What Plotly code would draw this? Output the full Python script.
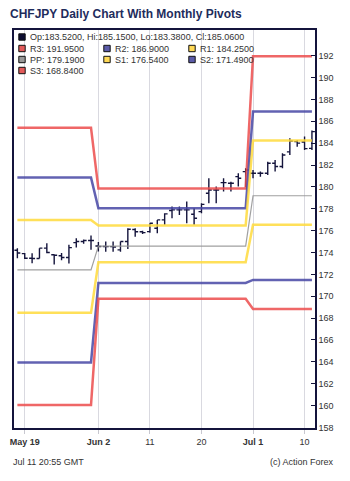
import plotly.graph_objects as go

# ---------------- data ----------------
dates = [
    "2025-05-16",
    "2025-05-19", "2025-05-20", "2025-05-21", "2025-05-22", "2025-05-23",
    "2025-05-26", "2025-05-27", "2025-05-28", "2025-05-29", "2025-05-30",
    "2025-06-02", "2025-06-03", "2025-06-04", "2025-06-05", "2025-06-06",
    "2025-06-09", "2025-06-10", "2025-06-11", "2025-06-12", "2025-06-13",
    "2025-06-16", "2025-06-17", "2025-06-18", "2025-06-19", "2025-06-20",
    "2025-06-23", "2025-06-24", "2025-06-25", "2025-06-26", "2025-06-27",
    "2025-06-30", "2025-07-01", "2025-07-02", "2025-07-03", "2025-07-04",
    "2025-07-07", "2025-07-08", "2025-07-09", "2025-07-10", "2025-07-11",
]
opens = [
    174.20,
    173.90, 173.48, 173.45, 174.40, 173.80,
    173.70, 173.55, 174.90, 175.00, 175.10,
    174.60, 174.55, 174.54, 174.24, 175.00,
    176.10, 175.90, 175.91, 176.22, 176.98,
    177.84, 177.90, 177.90, 177.50, 177.74,
    179.42, 179.72, 180.39, 180.34, 180.94,
    181.40, 181.25, 181.25, 181.25, 182.16,
    181.86, 183.20, 184.14, 184.10, 183.52,
]
highs = [
    174.40,
    173.95, 173.94, 174.40, 174.85, 173.85,
    173.95, 174.70, 175.30, 175.20, 175.55,
    174.95, 175.00, 175.00, 175.00, 176.22,
    176.22, 176.00, 176.68, 176.98, 177.59,
    178.20, 178.20, 178.66, 178.05, 178.51,
    180.79, 180.03, 180.79, 180.48, 181.25,
    181.71, 181.55, 181.40, 182.31, 182.47,
    183.08, 184.45, 184.29, 184.60, 185.15,
]
lows = [
    173.48,
    173.40, 173.02, 173.45, 173.94, 172.90,
    173.30, 173.00, 174.45, 174.80, 174.25,
    174.10, 174.08, 174.08, 174.08, 174.33,
    175.45, 175.70, 175.80, 175.77, 176.53,
    177.14, 177.44, 176.68, 176.53, 177.59,
    178.51, 178.51, 179.57, 179.57, 180.03,
    180.00, 180.79, 180.94, 181.10, 181.40,
    181.70, 182.92, 183.68, 183.38, 183.38,
]
closes = [
    173.95,
    173.48, 173.45, 174.40, 174.00, 173.75,
    173.55, 174.45, 175.00, 175.10, 175.10,
    174.55, 174.54, 174.50, 175.00, 176.13,
    175.90, 175.82, 176.68, 176.98, 177.53,
    177.90, 177.90, 177.90, 177.14, 178.40,
    179.72, 179.72, 180.39, 180.34, 180.79,
    181.55, 181.25, 181.25, 182.16, 181.86,
    182.92, 184.20, 184.00, 183.50, 185.06,
]

pivot_names = ["R3", "R2", "R1", "PP", "S1", "S2", "S3"]
pivot_months = ["2025-05", "2025-06", "2025-07"]
may_levels = [185.40, 180.85, 176.98, 172.41, 168.48, 163.95, 160.05]
jun_levels = [179.85, 178.05, 176.46, 174.58, 173.11, 171.22, 169.76]
jul_levels = [191.95, 186.90, 184.25, 179.19, 176.54, 171.49, 168.84]

tick_dates = ["2025-05-19", "2025-06-02", "2025-06-11", "2025-06-20", "2025-07-01", "2025-07-10"]
tick_labels = ["<b>May 19</b>", "<b>Jun 2</b>", "11", "20", "<b>Jul 1</b>", "10"]

y_ticks = list(range(158, 194, 2))

title_text = "CHFJPY Daily Chart With Monthly Pivots"
footer_left = "Jul 11 20:55 GMT"
footer_right = "(c) Action Forex"

# ---------------- styles ----------------
FONT = "Liberation Sans, Arial, sans-serif"
NAVY = "#14143c"
TEXT = "#333333"
pivot_styles = {
    "R3": dict(color="rgba(236,76,76,0.85)", width=2.5, sq="#e35a5a"),
    "R2": dict(color="rgba(70,70,165,0.85)", width=2.5, sq="#5b5ba8"),
    "R1": dict(color="rgba(255,218,60,0.85)", width=2.5, sq="#ffd955"),
    "PP": dict(color="rgba(150,150,150,0.9)", width=1.2, sq="#999999"),
    "S1": dict(color="rgba(255,218,60,0.85)", width=2.5, sq="#ffd955"),
    "S2": dict(color="rgba(70,70,165,0.85)", width=2.5, sq="#5b5ba8"),
    "S3": dict(color="rgba(236,76,76,0.85)", width=2.5, sq="#e35a5a"),
}

month_table = dict(zip(pivot_months, [may_levels, jun_levels, jul_levels]))

fig = go.Figure()

# pivot lines
for i, name in enumerate(pivot_names):
    ys = [month_table[d[:7]][i] for d in dates]
    st = pivot_styles[name]
    fig.add_trace(go.Scatter(
        x=dates, y=ys, mode="lines", name=name,
        line=dict(color=st["color"], width=st["width"]),
        hoverinfo="skip", showlegend=False,
    ))

# OHLC bars
fig.add_trace(go.Ohlc(
    x=dates, open=opens, high=highs, low=lows, close=closes,
    increasing=dict(line=dict(color=NAVY, width=1.4)),
    decreasing=dict(line=dict(color=NAVY, width=1.4)),
    tickwidth=0.4, showlegend=False, name="CHFJPY",
))

# ---------------- legend (text + squares) ----------------
annotations = []
shapes = []
row_y = [7, 18.5, 29.5, 40.5]  # px below top of plot area
col_x = [8, 93, 178]           # px from left of plot area (square centre)
sq = 3.2

def add_item(cx, cy, color, label):
    shapes.append(dict(
        type="rect", xref="paper", yref="paper",
        xsizemode="pixel", ysizemode="pixel", xanchor=0, yanchor=1,
        x0=cx - sq, x1=cx + sq, y0=-cy - sq, y1=-cy + sq,
        fillcolor=color, line=dict(color="#111111", width=1),
    ))
    annotations.append(dict(
        text=label, xref="paper", yref="paper", x=0, y=1,
        xanchor="left", yanchor="middle", showarrow=False,
        xshift=cx + 6, yshift=-cy,
        font=dict(family=FONT, size=9, color=TEXT),
    ))

ohlc_label = "Op:%.4f, Hi:%.4f, Lo:%.4f, Cl:%.4f" % (opens[-1], highs[-1], lows[-1], closes[-1])
add_item(col_x[0], row_y[0], "#0d0d30", ohlc_label)
for i, name in enumerate(pivot_names):
    r = 1 + i // 3
    c = i % 3
    add_item(col_x[c], row_y[r], pivot_styles[name]["sq"], "%s: %.4f" % (name, jul_levels[i]))

annotations.append(dict(
    text=footer_left, xref="paper", yref="paper", x=0, y=0,
    xanchor="left", yanchor="middle", showarrow=False, xshift=-3, yshift=-34,
    font=dict(family=FONT, size=9, color=TEXT),
))
annotations.append(dict(
    text=footer_right, xref="paper", yref="paper", x=1, y=0,
    xanchor="right", yanchor="middle", showarrow=False, xshift=21, yshift=-34,
    font=dict(family=FONT, size=9, color=TEXT),
))

fig.update_layout(
    width=350, height=481,
    margin=dict(l=10, r=35, t=30, b=53),
    paper_bgcolor="white", plot_bgcolor="white",
    showlegend=False,
    title=dict(
        text="<b>%s</b>" % title_text, x=10 / 350, xanchor="left",
        xref="container", yref="container", y=1 - 13.5 / 481, yanchor="middle",
        font=dict(family=FONT, size=12, color="#1e2c5c"),
    ),
    annotations=annotations,
    shapes=shapes,
    xaxis=dict(
        type="date",
        range=["2025-05-15 13:00", "2025-07-11 10:00"],
        rangebreaks=[dict(bounds=["sat", "mon"])],
        rangeslider=dict(visible=False),
        tickmode="array", tickvals=tick_dates, ticktext=tick_labels,
        showgrid=True, gridcolor="#d9d9e0", gridwidth=1,
        ticks="outside", ticklen=4, tickcolor="#c8c8d0",
        showline=True, linecolor=NAVY, linewidth=1.5, mirror=True,
        tickfont=dict(family=FONT, size=9, color=TEXT),
        zeroline=False, fixedrange=True,
    ),
    yaxis=dict(
        side="right",
        range=[157.95, 194.35],
        tickmode="array", tickvals=y_ticks,
        showgrid=False,
        ticks="inside", ticklen=4, tickcolor=NAVY,
        showline=True, linecolor=NAVY, linewidth=1.5, mirror=True,
        tickfont=dict(family=FONT, size=9, color=TEXT),
        zeroline=False, fixedrange=True,
    ),
)

fig.write_html(
    "out.html",
    config={"displayModeBar": False},
    post_script="document.body.style.margin='0';document.body.style.padding='0';",
)
